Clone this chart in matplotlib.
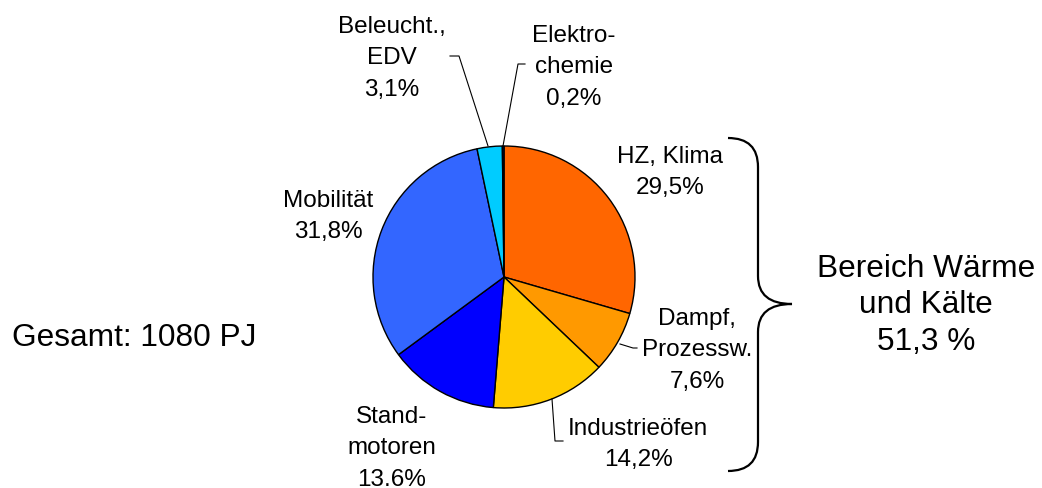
import matplotlib.pyplot as plt
from matplotlib.path import Path
from matplotlib.patches import PathPatch

plt.rcParams['font.family'] = ['Liberation Sans', 'DejaVu Sans']

# data (clockwise from 12 o'clock)
labels = ["HZ, Klima\n29,5%", "Dampf,\nProzessw.\n7,6%", "Industrieöfen\n14,2%",
          "Stand-\nmotoren\n13.6%", "Mobilität\n31,8%", "Beleucht.,\nEDV\n3,1%",
          "Elektro-\nchemie\n0,2%"]
shares = [29.5, 7.6, 14.2, 13.6, 31.8, 3.1, 0.2]
colors = ["#FF6600", "#FF9900", "#FFCC00", "#0000FF", "#3366FF", "#00CCFF", "#000080"]
total_text = "Gesamt: 1080 PJ"
group_text = "Bereich Wärme\nund Kälte\n51,3 %"

W, H = 1042, 489
fig = plt.figure(figsize=(W / 100, H / 100), dpi=100)
ax = fig.add_axes([0, 0, 1, 1])

def y(py):
    return H - py

cx, cy, r = 504, 278, 131
ax.pie(shares, colors=colors, startangle=90, counterclock=False,
       center=(cx, y(cy)), radius=r, frame=True,
       wedgeprops=dict(edgecolor='black', linewidth=1))
ax.set_xlim(0, W)
ax.set_ylim(0, H)
ax.set_aspect('equal')
ax.axis('off')

def multiline(px, first_base, text, size, step):
    for i, line in enumerate(text.split("\n")):
        ax.text(px, y(first_base + i * step), line, ha='center',
                va='baseline', fontsize=size)

# label positions: centre x, baseline of first line (pixels)
label_pos = [(670, 163), (697, 325), (638, 435), (392, 423), (328, 207), (392, 33), (574, 42)]
for txt, (px, py) in zip(labels, label_pos):
    multiline(px, py, txt, 17.5, 31.5)

ax.text(12, y(346), total_text, ha='left', va='baseline', fontsize=22.8)
multiline(926, 277, group_text, 22.8, 36.5)

# leader lines
leaders = [
    [(450, 57), (459, 57), (488, 147)],
    [(525, 65), (518, 65), (503, 147)],
    [(620, 345), (633, 349), (637, 349)],
    [(552, 400), (555, 442), (563, 442)],
]
for pts in leaders:
    ax.plot([p[0] for p in pts], [y(p[1]) for p in pts], color='black', lw=0.8)

# curly brace
verts = [(728, 139), (758, 139), (758, 168),
         (758, 277),
         (758, 305), (792, 305),
         (758, 305), (758, 333),
         (758, 443),
         (758, 472), (728, 472)]
codes = [Path.MOVETO, Path.CURVE3, Path.CURVE3,
         Path.LINETO,
         Path.CURVE3, Path.CURVE3,
         Path.CURVE3, Path.CURVE3,
         Path.LINETO,
         Path.CURVE3, Path.CURVE3]
brace = Path([(vx, y(vy)) for vx, vy in verts], codes)
ax.add_patch(PathPatch(brace, fill=False, edgecolor='black', lw=1.6))

fig.savefig("out.png", dpi=100)
